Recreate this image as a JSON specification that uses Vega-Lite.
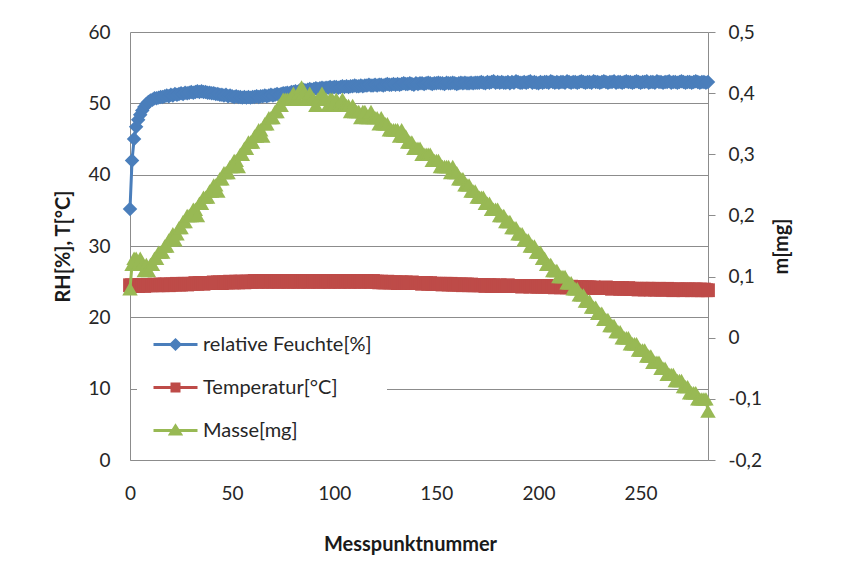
{
"$schema": "https://vega.github.io/schema/vega-lite/v6.json",
"width": 578, "height": 428,
"autosize": {"type": "none"},
"padding": {"left": 130, "top": 32, "right": 135, "bottom": 117},
"background": "white",
"config": {
 "view": {"stroke": null},
 "font": "Lato",
 "axis": {"labelFont": "Lato", "labelFontSize": 19, "labelColor": "#262626", "titleFont": "Lato", "titleFontSize": 20, "titleFontWeight": "bold", "titleColor": "#1a1a1a", "domainColor": "#8c8c8c", "domainWidth": 1, "labelFlush": false}
},
"data": {"values": [
{"x":0,"rh":35.2,"t":24.5,"m":0.08},{"x":1,"rh":42.0,"t":24.5,"m":0.12},{"x":2,"rh":45.0,"t":24.4,"m":0.13},{"x":3,"rh":46.7,"t":24.5,"m":0.13},{"x":4,"rh":47.7,"t":24.4,"m":0.12},{"x":5,"rh":48.4,"t":24.5,"m":0.13},{"x":6,"rh":49.0,"t":24.5,"m":0.12},{"x":7,"rh":49.5,"t":24.4,"m":0.11},{"x":8,"rh":49.9,"t":24.5,"m":0.12},{"x":9,"rh":50.2,"t":24.5,"m":0.11},
{"x":10,"rh":50.4,"t":24.5,"m":0.12},{"x":11,"rh":50.5,"t":24.5,"m":0.12},{"x":12,"rh":50.7,"t":24.6,"m":0.13},{"x":13,"rh":50.7,"t":24.5,"m":0.13},{"x":14,"rh":50.8,"t":24.5,"m":0.14},{"x":15,"rh":50.9,"t":24.6,"m":0.14},{"x":16,"rh":50.9,"t":24.5,"m":0.14},{"x":17,"rh":51.0,"t":24.6,"m":0.15},{"x":18,"rh":51.1,"t":24.6,"m":0.15},{"x":19,"rh":51.0,"t":24.5,"m":0.16},
{"x":20,"rh":51.2,"t":24.6,"m":0.16},{"x":21,"rh":51.1,"t":24.6,"m":0.17},{"x":22,"rh":51.3,"t":24.6,"m":0.16},{"x":23,"rh":51.2,"t":24.7,"m":0.17},{"x":24,"rh":51.3,"t":24.6,"m":0.18},{"x":25,"rh":51.4,"t":24.6,"m":0.18},{"x":26,"rh":51.3,"t":24.7,"m":0.19},{"x":27,"rh":51.5,"t":24.7,"m":0.19},{"x":28,"rh":51.4,"t":24.6,"m":0.2},{"x":29,"rh":51.5,"t":24.7,"m":0.2},
{"x":30,"rh":51.6,"t":24.7,"m":0.2},{"x":31,"rh":51.5,"t":24.7,"m":0.21},{"x":32,"rh":51.6,"t":24.8,"m":0.21},{"x":33,"rh":51.7,"t":24.7,"m":0.2},{"x":34,"rh":51.6,"t":24.8,"m":0.22},{"x":35,"rh":51.7,"t":24.8,"m":0.22},{"x":36,"rh":51.6,"t":24.7,"m":0.23},{"x":37,"rh":51.6,"t":24.8,"m":0.23},{"x":38,"rh":51.5,"t":24.8,"m":0.23},{"x":39,"rh":51.5,"t":24.8,"m":0.24},
{"x":40,"rh":51.4,"t":24.8,"m":0.24},{"x":41,"rh":51.4,"t":24.9,"m":0.25},{"x":42,"rh":51.3,"t":24.8,"m":0.25},{"x":43,"rh":51.3,"t":24.9,"m":0.24},{"x":44,"rh":51.2,"t":24.9,"m":0.26},{"x":45,"rh":51.2,"t":24.8,"m":0.26},{"x":46,"rh":51.1,"t":24.9,"m":0.27},{"x":47,"rh":51.2,"t":24.9,"m":0.27},{"x":48,"rh":51.0,"t":24.9,"m":0.27},{"x":49,"rh":51.1,"t":25.0,"m":0.28},
{"x":50,"rh":51.0,"t":24.9,"m":0.28},{"x":51,"rh":50.9,"t":24.9,"m":0.29},{"x":52,"rh":51.0,"t":25.0,"m":0.29},{"x":53,"rh":50.9,"t":24.9,"m":0.28},{"x":54,"rh":50.9,"t":25.0,"m":0.3},{"x":55,"rh":50.8,"t":25.0,"m":0.3},{"x":56,"rh":50.9,"t":24.9,"m":0.31},{"x":57,"rh":50.8,"t":25.0,"m":0.31},{"x":58,"rh":50.9,"t":25.0,"m":0.32},{"x":59,"rh":50.8,"t":25.0,"m":0.32},
{"x":60,"rh":50.9,"t":25.0,"m":0.32},{"x":61,"rh":50.9,"t":25.1,"m":0.33},{"x":62,"rh":51.0,"t":25.0,"m":0.33},{"x":63,"rh":50.9,"t":25.0,"m":0.34},{"x":64,"rh":51.0,"t":25.1,"m":0.34},{"x":65,"rh":51.0,"t":25.0,"m":0.33},{"x":66,"rh":51.1,"t":25.1,"m":0.35},{"x":67,"rh":51.0,"t":25.0,"m":0.35},{"x":68,"rh":51.1,"t":25.0,"m":0.36},{"x":69,"rh":51.2,"t":25.1,"m":0.36},
{"x":70,"rh":51.1,"t":25.0,"m":0.36},{"x":71,"rh":51.2,"t":25.1,"m":0.37},{"x":72,"rh":51.3,"t":25.0,"m":0.37},{"x":73,"rh":51.2,"t":25.0,"m":0.38},{"x":74,"rh":51.3,"t":25.1,"m":0.38},{"x":75,"rh":51.4,"t":25.0,"m":0.39},{"x":76,"rh":51.4,"t":25.1,"m":0.39},{"x":77,"rh":51.5,"t":25.0,"m":0.39},{"x":78,"rh":51.4,"t":25.0,"m":0.39},{"x":79,"rh":51.6,"t":25.1,"m":0.39},
{"x":80,"rh":51.6,"t":25.0,"m":0.4},{"x":81,"rh":51.7,"t":25.1,"m":0.39},{"x":82,"rh":51.6,"t":25.0,"m":0.39},{"x":83,"rh":51.8,"t":25.0,"m":0.4},{"x":84,"rh":51.8,"t":25.1,"m":0.41},{"x":85,"rh":51.9,"t":25.0,"m":0.4},{"x":86,"rh":51.8,"t":25.1,"m":0.39},{"x":87,"rh":51.9,"t":25.0,"m":0.39},{"x":88,"rh":52.0,"t":25.0,"m":0.4},{"x":89,"rh":51.9,"t":25.1,"m":0.39},
{"x":90,"rh":52.0,"t":25.0,"m":0.39},{"x":91,"rh":52.1,"t":25.1,"m":0.38},{"x":92,"rh":52.0,"t":25.0,"m":0.39},{"x":93,"rh":52.1,"t":25.0,"m":0.39},{"x":94,"rh":52.2,"t":25.1,"m":0.4},{"x":95,"rh":52.1,"t":25.0,"m":0.39},{"x":96,"rh":52.2,"t":25.1,"m":0.39},{"x":97,"rh":52.2,"t":25.0,"m":0.38},{"x":98,"rh":52.3,"t":25.0,"m":0.39},{"x":99,"rh":52.2,"t":25.1,"m":0.39},
{"x":100,"rh":52.3,"t":25.0,"m":0.38},{"x":101,"rh":52.3,"t":25.1,"m":0.39},{"x":102,"rh":52.2,"t":25.0,"m":0.38},{"x":103,"rh":52.3,"t":25.0,"m":0.38},{"x":104,"rh":52.4,"t":25.1,"m":0.39},{"x":105,"rh":52.3,"t":25.0,"m":0.38},{"x":106,"rh":52.4,"t":25.1,"m":0.38},{"x":107,"rh":52.3,"t":25.0,"m":0.38},{"x":108,"rh":52.4,"t":25.0,"m":0.37},{"x":109,"rh":52.4,"t":25.1,"m":0.38},
{"x":110,"rh":52.5,"t":25.0,"m":0.37},{"x":111,"rh":52.4,"t":25.1,"m":0.37},{"x":112,"rh":52.4,"t":25.0,"m":0.37},{"x":113,"rh":52.5,"t":25.0,"m":0.36},{"x":114,"rh":52.4,"t":25.1,"m":0.37},{"x":115,"rh":52.5,"t":25.0,"m":0.37},{"x":116,"rh":52.5,"t":25.1,"m":0.36},{"x":117,"rh":52.6,"t":25.0,"m":0.36},{"x":118,"rh":52.5,"t":25.0,"m":0.37},{"x":119,"rh":52.5,"t":25.1,"m":0.36},
{"x":120,"rh":52.6,"t":25.0,"m":0.36},{"x":121,"rh":52.5,"t":25.0,"m":0.36},{"x":122,"rh":52.6,"t":24.9,"m":0.35},{"x":123,"rh":52.6,"t":25.0,"m":0.36},{"x":124,"rh":52.5,"t":24.9,"m":0.35},{"x":125,"rh":52.6,"t":24.9,"m":0.35},{"x":126,"rh":52.7,"t":25.0,"m":0.35},{"x":127,"rh":52.6,"t":24.9,"m":0.34},{"x":128,"rh":52.6,"t":24.9,"m":0.34},{"x":129,"rh":52.7,"t":24.9,"m":0.34},
{"x":130,"rh":52.6,"t":24.9,"m":0.34},{"x":131,"rh":52.7,"t":24.8,"m":0.34},{"x":132,"rh":52.6,"t":24.9,"m":0.33},{"x":133,"rh":52.7,"t":24.9,"m":0.34},{"x":134,"rh":52.8,"t":24.8,"m":0.33},{"x":135,"rh":52.7,"t":24.9,"m":0.33},{"x":136,"rh":52.7,"t":24.8,"m":0.32},{"x":137,"rh":52.8,"t":24.8,"m":0.32},{"x":138,"rh":52.7,"t":24.9,"m":0.32},{"x":139,"rh":52.6,"t":24.8,"m":0.31},
{"x":140,"rh":52.8,"t":24.8,"m":0.31},{"x":141,"rh":52.7,"t":24.8,"m":0.31},{"x":142,"rh":52.8,"t":24.8,"m":0.31},{"x":143,"rh":52.8,"t":24.7,"m":0.3},{"x":144,"rh":52.7,"t":24.8,"m":0.3},{"x":145,"rh":52.8,"t":24.8,"m":0.3},{"x":146,"rh":52.9,"t":24.7,"m":0.3},{"x":147,"rh":52.8,"t":24.8,"m":0.3},{"x":148,"rh":52.7,"t":24.7,"m":0.29},{"x":149,"rh":52.8,"t":24.7,"m":0.29},
{"x":150,"rh":52.8,"t":24.7,"m":0.29},{"x":151,"rh":52.9,"t":24.7,"m":0.29},{"x":152,"rh":52.8,"t":24.7,"m":0.28},{"x":153,"rh":52.8,"t":24.6,"m":0.28},{"x":154,"rh":52.7,"t":24.7,"m":0.28},{"x":155,"rh":52.9,"t":24.7,"m":0.28},{"x":156,"rh":52.8,"t":24.6,"m":0.28},{"x":157,"rh":52.8,"t":24.7,"m":0.27},{"x":158,"rh":52.9,"t":24.6,"m":0.28},{"x":159,"rh":52.8,"t":24.6,"m":0.27},
{"x":160,"rh":52.7,"t":24.6,"m":0.27},{"x":161,"rh":52.8,"t":24.6,"m":0.26},{"x":162,"rh":52.9,"t":24.6,"m":0.26},{"x":163,"rh":52.8,"t":24.5,"m":0.26},{"x":164,"rh":52.9,"t":24.6,"m":0.25},{"x":165,"rh":52.8,"t":24.6,"m":0.25},{"x":166,"rh":52.8,"t":24.5,"m":0.25},{"x":167,"rh":52.9,"t":24.6,"m":0.24},{"x":168,"rh":52.8,"t":24.5,"m":0.24},{"x":169,"rh":52.9,"t":24.5,"m":0.24},
{"x":170,"rh":52.9,"t":24.5,"m":0.23},{"x":171,"rh":52.9,"t":24.5,"m":0.23},{"x":172,"rh":53.0,"t":24.5,"m":0.23},{"x":173,"rh":52.9,"t":24.5,"m":0.23},{"x":174,"rh":52.8,"t":24.4,"m":0.22},{"x":175,"rh":53.0,"t":24.5,"m":0.22},{"x":176,"rh":52.9,"t":24.5,"m":0.22},{"x":177,"rh":53.0,"t":24.4,"m":0.21},{"x":178,"rh":53.1,"t":24.5,"m":0.21},{"x":179,"rh":52.9,"t":24.4,"m":0.21},
{"x":180,"rh":53.0,"t":24.4,"m":0.21},{"x":181,"rh":52.9,"t":24.5,"m":0.2},{"x":182,"rh":53.0,"t":24.4,"m":0.2},{"x":183,"rh":52.9,"t":24.4,"m":0.2},{"x":184,"rh":52.9,"t":24.4,"m":0.19},{"x":185,"rh":53.0,"t":24.5,"m":0.19},{"x":186,"rh":52.8,"t":24.4,"m":0.19},{"x":187,"rh":53.0,"t":24.4,"m":0.18},{"x":188,"rh":52.9,"t":24.4,"m":0.18},{"x":189,"rh":53.1,"t":24.4,"m":0.18},
{"x":190,"rh":53.0,"t":24.4,"m":0.17},{"x":191,"rh":52.9,"t":24.4,"m":0.17},{"x":192,"rh":52.9,"t":24.3,"m":0.17},{"x":193,"rh":53.0,"t":24.4,"m":0.16},{"x":194,"rh":52.9,"t":24.4,"m":0.16},{"x":195,"rh":53.0,"t":24.4,"m":0.16},{"x":196,"rh":53.1,"t":24.3,"m":0.15},{"x":197,"rh":52.9,"t":24.4,"m":0.15},{"x":198,"rh":53.0,"t":24.4,"m":0.15},{"x":199,"rh":52.9,"t":24.3,"m":0.14},
{"x":200,"rh":52.8,"t":24.3,"m":0.14},{"x":201,"rh":53.0,"t":24.4,"m":0.14},{"x":202,"rh":52.9,"t":24.3,"m":0.13},{"x":203,"rh":53.0,"t":24.3,"m":0.13},{"x":204,"rh":53.0,"t":24.4,"m":0.12},{"x":205,"rh":52.9,"t":24.3,"m":0.12},{"x":206,"rh":53.1,"t":24.3,"m":0.12},{"x":207,"rh":53.0,"t":24.3,"m":0.11},{"x":208,"rh":52.9,"t":24.2,"m":0.11},{"x":209,"rh":53.0,"t":24.3,"m":0.11},
{"x":210,"rh":52.9,"t":24.3,"m":0.1},{"x":211,"rh":53.0,"t":24.2,"m":0.1},{"x":212,"rh":53.0,"t":24.3,"m":0.1},{"x":213,"rh":52.9,"t":24.3,"m":0.1},{"x":214,"rh":53.1,"t":24.2,"m":0.09},{"x":215,"rh":53.0,"t":24.2,"m":0.09},{"x":216,"rh":52.9,"t":24.3,"m":0.09},{"x":217,"rh":53.0,"t":24.2,"m":0.08},{"x":218,"rh":53.0,"t":24.2,"m":0.08},{"x":219,"rh":52.9,"t":24.2,"m":0.08},
{"x":220,"rh":53.0,"t":24.2,"m":0.07},{"x":221,"rh":53.1,"t":24.2,"m":0.07},{"x":222,"rh":53.0,"t":24.1,"m":0.07},{"x":223,"rh":52.9,"t":24.2,"m":0.06},{"x":224,"rh":53.0,"t":24.2,"m":0.06},{"x":225,"rh":53.0,"t":24.2,"m":0.06},{"x":226,"rh":52.9,"t":24.1,"m":0.05},{"x":227,"rh":53.1,"t":24.2,"m":0.05},{"x":228,"rh":53.0,"t":24.1,"m":0.05},{"x":229,"rh":53.0,"t":24.1,"m":0.04},
{"x":230,"rh":52.9,"t":24.1,"m":0.04},{"x":231,"rh":53.0,"t":24.1,"m":0.04},{"x":232,"rh":53.1,"t":24.1,"m":0.03},{"x":233,"rh":53.0,"t":24.2,"m":0.03},{"x":234,"rh":52.9,"t":24.1,"m":0.03},{"x":235,"rh":53.0,"t":24.1,"m":0.02},{"x":236,"rh":53.0,"t":24.0,"m":0.02},{"x":237,"rh":53.1,"t":24.1,"m":0.02},{"x":238,"rh":52.9,"t":24.1,"m":0.01},{"x":239,"rh":53.0,"t":24.1,"m":0.01},
{"x":240,"rh":53.0,"t":24.0,"m":0.01},{"x":241,"rh":52.9,"t":24.1,"m":0.0},{"x":242,"rh":53.0,"t":24.0,"m":0.0},{"x":243,"rh":53.1,"t":24.0,"m":0.0},{"x":244,"rh":53.0,"t":24.1,"m":0.0},{"x":245,"rh":53.0,"t":24.0,"m":-0.01},{"x":246,"rh":52.9,"t":24.0,"m":-0.01},{"x":247,"rh":53.0,"t":24.0,"m":-0.01},{"x":248,"rh":53.1,"t":24.0,"m":-0.01},{"x":249,"rh":53.0,"t":23.9,"m":-0.02},
{"x":250,"rh":52.9,"t":24.0,"m":-0.02},{"x":251,"rh":53.0,"t":24.0,"m":-0.02},{"x":252,"rh":53.0,"t":23.9,"m":-0.02},{"x":253,"rh":53.1,"t":24.0,"m":-0.03},{"x":254,"rh":52.9,"t":24.0,"m":-0.03},{"x":255,"rh":53.0,"t":23.9,"m":-0.03},{"x":256,"rh":53.0,"t":24.0,"m":-0.04},{"x":257,"rh":52.9,"t":23.9,"m":-0.04},{"x":258,"rh":53.1,"t":23.9,"m":-0.04},{"x":259,"rh":53.0,"t":24.0,"m":-0.04},
{"x":260,"rh":53.0,"t":23.9,"m":-0.05},{"x":261,"rh":52.9,"t":23.9,"m":-0.05},{"x":262,"rh":53.0,"t":23.9,"m":-0.05},{"x":263,"rh":53.0,"t":24.0,"m":-0.06},{"x":264,"rh":53.1,"t":23.9,"m":-0.06},{"x":265,"rh":52.9,"t":23.9,"m":-0.06},{"x":266,"rh":53.0,"t":23.8,"m":-0.06},{"x":267,"rh":53.0,"t":23.9,"m":-0.07},{"x":268,"rh":52.9,"t":23.9,"m":-0.07},{"x":269,"rh":53.0,"t":23.9,"m":-0.07},
{"x":270,"rh":53.1,"t":23.9,"m":-0.07},{"x":271,"rh":53.0,"t":23.8,"m":-0.08},{"x":272,"rh":52.9,"t":23.9,"m":-0.08},{"x":273,"rh":53.0,"t":23.9,"m":-0.08},{"x":274,"rh":53.0,"t":23.9,"m":-0.09},{"x":275,"rh":52.9,"t":23.8,"m":-0.09},{"x":276,"rh":53.0,"t":23.9,"m":-0.09},{"x":277,"rh":53.1,"t":23.9,"m":-0.09},{"x":278,"rh":53.0,"t":23.8,"m":-0.1},{"x":279,"rh":52.9,"t":23.9,"m":-0.1},
{"x":280,"rh":53.0,"t":23.8,"m":-0.1},{"x":281,"rh":53.0,"t":23.9,"m":-0.1},{"x":282,"rh":52.9,"t":23.8,"m":-0.1},{"x":283,"rh":53.0,"t":23.8,"m":-0.12}
]},
"transform": [{"fold": ["rh", "t", "m"], "as": ["s", "v"]}],
"encoding": {
 "x": {"field": "x", "type": "quantitative", "scale": {"domain": [0, 283], "nice": false, "zero": false},
   "axis": {"values": [0, 50, 100, 150, 200, 250], "title": "Messpunktnummer", "grid": false, "ticks": false, "labelPadding": 24, "titlePadding": 31, "titleX": 280}},
 "color": {"field": "s", "type": "nominal",
   "scale": {"domain": ["rh", "t", "m"], "range": ["#4A7EBB", "#BE4B48", "#98B954"]},
   "legend": {"title": null, "orient": "none", "legendX": 7, "legendY": 286, "fillColor": "white", "padding": 15,
     "labelFont": "Lato", "labelFontSize": 20, "labelColor": "#262626", "labelLimit": 400, "symbolSize": 400, "symbolStrokeWidth": 3, "rowPadding": 21, "labelOffset": 28,
     "labelExpr": "datum.value === 'rh' ? 'relative Feuchte[%]' : datum.value === 't' ? 'Temperatur[°C]' : 'Masse[mg]'",
     "encoding": {"symbols": {
       "shape": {"condition": [{"test": "datum.value === 'rh'", "value": "M-1,0H3.4M1.2,-0.45L1.65,0L1.2,0.45L0.75,0Z"}, {"test": "datum.value === 't'", "value": "M-1,0H3.4M0.85,-0.35H1.55V0.35H0.85Z"}], "value": "M-1,0H3.4M1.2,-0.45L1.7,0.35L0.7,0.35Z"},
       "fill": {"condition": [{"test": "datum.value === 'rh'", "value": "#4A7EBB"}, {"test": "datum.value === 't'", "value": "#BE4B48"}], "value": "#98B954"},
       "stroke": {"condition": [{"test": "datum.value === 'rh'", "value": "#4A7EBB"}, {"test": "datum.value === 't'", "value": "#BE4B48"}], "value": "#98B954"},
       "strokeWidth": {"value": 3},
       "opacity": {"value": 1}
     }}}}
},
"layer": [
 {"transform": [{"filter": "datum.s !== 'm'"}],
  "encoding": {"y": {"field": "v", "type": "quantitative", "scale": {"domain": [0, 60], "nice": false},
     "axis": {"title": "RH[%], T[°C]", "values": [0, 10, 20, 30, 40, 50, 60], "grid": true, "gridColor": "#8c8c8c", "gridWidth": 1, "ticks": false, "labelPadding": 20, "titlePadding": 14}}},
  "layer": [
    {"mark": {"type": "line", "strokeWidth": 3}},
    {"transform": [{"filter": "datum.s === 'rh'"}], "mark": {"type": "point", "shape": "diamond", "filled": true, "size": 210, "opacity": 1}},
    {"transform": [{"filter": "datum.s === 't'"}], "mark": {"type": "point", "shape": "square", "filled": true, "size": 190, "opacity": 1}}
  ]},
 {"transform": [{"filter": "datum.s === 'm'"}],
  "encoding": {"y": {"field": "v", "type": "quantitative", "scale": {"domain": [-0.2, 0.5], "nice": false, "zero": false},
     "axis": {"orient": "right", "title": "m[mg]", "titleAngle": 270, "titleBaseline": "top", "values": [-0.2, -0.1, 0, 0.1, 0.2, 0.3, 0.4, 0.5], "grid": false, "ticks": true, "tickSize": 7, "tickColor": "#8c8c8c", "labelPadding": 13, "titlePadding": 10,
       "labelExpr": "replace(toString(round(datum.value*10)/10), '.', ',')"}}},
  "layer": [
    {"mark": {"type": "line", "strokeWidth": 3}},
    {"mark": {"type": "point", "shape": "triangle-up", "filled": true, "size": 240, "opacity": 1}}
  ]}
],
"resolve": {"scale": {"y": "independent"}}
}
